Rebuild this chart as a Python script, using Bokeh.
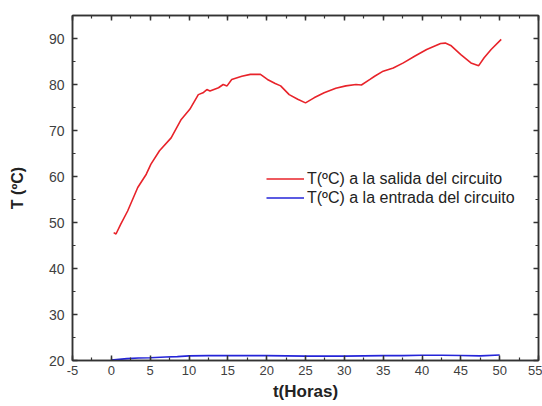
from bokeh.plotting import figure
from bokeh.models import (LinearAxis, Legend, LegendItem, SingleIntervalTicker, Range1d,
                          CustomJSTickFormatter)
from bokeh.embed import file_html
from bokeh.resources import INLINE

# Data
t_salida = [0.3, 0.6, 1.2, 2.1, 3.4, 4.5, 5.1, 6.2, 7.7, 9.0, 10.1, 11.2, 11.8, 12.3, 12.7,
            13.8, 14.4, 14.9, 15.5, 16.8, 17.9, 19.2, 20.1, 21.1, 21.8, 22.9, 24.0, 25.0,
            26.1, 27.4, 28.9, 30.2, 31.5, 32.2, 33.3, 33.9, 35.0, 36.3, 37.6, 39.1, 40.6,
            42.4, 43.0, 43.7, 45.0, 46.3, 47.3, 48.0, 48.9, 50.2]
T_salida = [47.8, 47.5, 49.6, 52.5, 57.6, 60.5, 62.7, 65.6, 68.4, 72.4, 74.6, 77.8, 78.2, 78.9, 78.6,
            79.3, 80.0, 79.7, 81.1, 81.8, 82.2, 82.2, 81.1, 80.2, 79.7, 77.8, 76.8, 76.0,
            77.1, 78.2, 79.2, 79.7, 80.0, 79.9, 81.1, 81.8, 82.9, 83.6, 84.7, 86.2, 87.6,
            88.9, 89.0, 88.5, 86.5, 84.7, 84.1, 85.8, 87.6, 89.8]

t_entrada = [0, 1, 2, 3.5, 5, 7, 8.5, 10, 12.5, 15, 17.5, 20, 22.5, 25, 27.5, 30, 32.5, 35,
             37.5, 40, 42.5, 45, 47.5, 50]
T_entrada = [20.1, 20.25, 20.4, 20.55, 20.6, 20.75, 20.85, 21.0, 21.05, 21.05, 21.05, 21.05, 21.0,
             20.95, 20.95, 20.95, 21.0, 21.05, 21.05, 21.15, 21.15, 21.1, 21.0, 21.2]

label_salida = "T(ºC) a la salida del circuito"
label_entrada = "T(ºC) a la entrada del circuito"
x_label = "t(Horas)"
y_label = "T (ºC)"

AX = "#333333"
TXT = "#404040"
FONT = "Liberation Sans"

p = figure(width=542, height=406, output_backend="svg", toolbar_location=None,
           x_range=Range1d(-5, 55), y_range=Range1d(20, 95),
           x_axis_label=x_label, y_axis_label=y_label,
           min_border_left=72, min_border_right=4, min_border_top=15, min_border_bottom=46)
p.grid.visible = False
p.outline_line_color = AX
p.outline_line_width = 1.5
p.background_fill_color = "white"
p.border_fill_color = "white"

r1 = p.line(t_salida, T_salida, line_color="#e8232a", line_width=1.6)
r2 = p.line(t_entrada, T_entrada, line_color="#2424d8", line_width=1.6)

def style_axis(ax):
    ax.axis_line_color = AX
    ax.axis_line_width = 1.5
    ax.major_tick_line_color = AX
    ax.minor_tick_line_color = AX
    ax.major_tick_line_width = 1.5
    ax.minor_tick_line_width = 1.2
    ax.major_tick_in = 5
    ax.major_tick_out = 0
    ax.minor_tick_in = 3
    ax.minor_tick_out = 0
    ax.major_label_text_font = FONT
    ax.major_label_text_color = TXT
    ax.axis_label_text_font = FONT
    ax.axis_label_text_font_style = "bold"
    ax.axis_label_text_color = "#222222"

plain = CustomJSTickFormatter(code="return String(tick);")
blank = CustomJSTickFormatter(code="return '';")

p.xaxis.ticker = SingleIntervalTicker(interval=5, num_minor_ticks=2)
p.yaxis.ticker = SingleIntervalTicker(interval=10, num_minor_ticks=2)
style_axis(p.xaxis[0])
style_axis(p.yaxis[0])
p.xaxis.formatter = plain
p.yaxis.formatter = plain
p.xaxis.major_label_text_font_size = "13px"
p.yaxis.major_label_text_font_size = "14px"
p.xaxis.axis_label_text_font_size = "17px"
p.yaxis.axis_label_text_font_size = "16px"
p.xaxis.major_label_standoff = 5
p.yaxis.major_label_standoff = 8
p.xaxis.axis_label_standoff = 4
p.yaxis.axis_label_standoff = 20

top = LinearAxis(ticker=SingleIntervalTicker(interval=5, num_minor_ticks=2), formatter=blank)
style_axis(top)
top.major_label_standoff = 0
p.add_layout(top, "above")
right = LinearAxis(ticker=SingleIntervalTicker(interval=10, num_minor_ticks=2), formatter=blank)
style_axis(right)
right.major_label_standoff = 0
p.add_layout(right, "right")

legend = Legend(items=[LegendItem(label=label_salida, renderers=[r1]),
                       LegendItem(label=label_entrada, renderers=[r2])],
                location=(194, 153), padding=0, spacing=0, margin=0,
                glyph_width=38, glyph_height=19, label_standoff=3,
                label_text_font=FONT, label_text_font_size="16px",
                label_text_color="#222222", label_height=19,
                background_fill_alpha=0, border_line_alpha=0)
p.add_layout(legend, "center")

open("out.html", "w").write(file_html(p, INLINE))
